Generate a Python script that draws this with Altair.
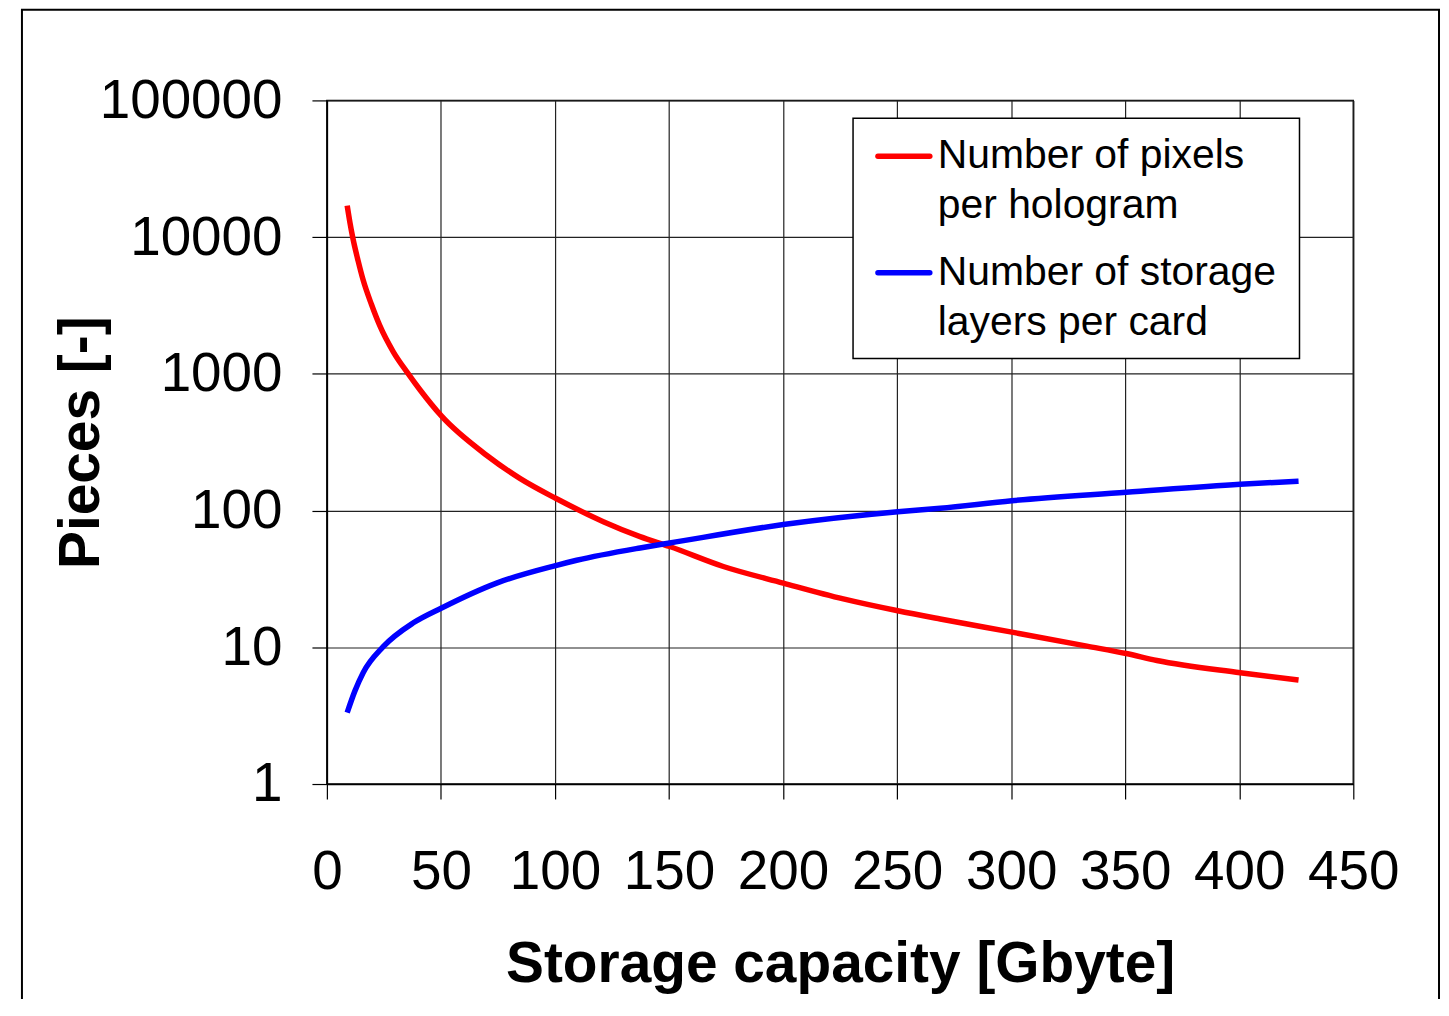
import altair as alt
import pandas as pd

series_names = ["Number of pixels per hologram", "Number of storage layers per card"]
legend_lines = [["Number of pixels", "per hologram"], ["Number of storage", "layers per card"]]
colors = ["#ff0000", "#0000ff"]

red_x = [8.9, 10.1, 11.3, 13.7, 15.9, 19.6, 23.2, 29.1, 35.7, 40.8, 50.3, 70, 84.6, 100.3,
         121.2, 137.3, 150.3, 173.8, 200.1, 226.4, 250.3, 268.9, 300.3, 333.2, 350.4,
         363.9, 400.4, 426]
red_y = [17000, 12800, 10000, 6700, 4850, 3200, 2250, 1450, 1000, 765, 490, 254, 172, 123,
         83, 64.5, 54.6, 39, 29.5, 22.6, 18.5, 16.1, 12.9, 10.2, 9.0,
         8.0, 6.52, 5.76]

blue_x = [8.9, 12.3, 15.9, 24.7, 37.9, 50.3, 74.4, 100.3, 109.5, 137.3, 150.3, 200.1,
          250.3, 268.9, 300.3, 350.4, 400.4, 426]
blue_y = [3.33, 4.8, 6.52, 10.1, 15.1, 19.4, 29.5, 39.6, 43.3, 53.3, 57.9, 79,
          98, 104, 118, 136, 156, 164]

x_ticks = [0, 50, 100, 150, 200, 250, 300, 350, 400, 450]
y_ticks = [1, 10, 100, 1000, 10000, 100000]

df = pd.concat([
    pd.DataFrame({"x": red_x, "y": red_y, "series": series_names[0], "order": range(len(red_x))}),
    pd.DataFrame({"x": blue_x, "y": blue_y, "series": series_names[1], "order": range(len(blue_x))}),
])

FONT = "Liberation Sans"
W, H = 1030, 686

lines = alt.Chart(df).mark_line(strokeWidth=5.5, interpolate="monotone", clip=True).encode(
    x=alt.X("x:Q", scale=alt.Scale(domain=[0, 450], nice=False, zero=False),
            axis=alt.Axis(values=x_ticks, title="Storage capacity [Gbyte]",
                          labelPadding=47, titleBaseline="alphabetic", titleY=198)),
    y=alt.Y("y:Q", scale=alt.Scale(type="log", domain=[1, 100000], nice=False),
            axis=alt.Axis(values=y_ticks, format="d", title="Pieces [-]",
                          labelPadding=30, titleX=-246, titleY=H / 2,
                          titleBaseline="middle", titleAlign="center", titleAngle=-90)),
    color=alt.Color("series:N", scale=alt.Scale(domain=series_names, range=colors), legend=None),
    order="order:Q",
)

one = pd.DataFrame({"a": [0]})

frame = alt.Chart(one).mark_rect(fillOpacity=0, stroke="black", strokeWidth=2, clip=False).encode(
    x=alt.value(-306), x2=alt.value(1116), y=alt.value(-91), y2=alt.value(1000)
)

legend_box = alt.Chart(one).mark_rect(fill="white", stroke="black", strokeWidth=1.5).encode(
    x=alt.value(528), x2=alt.value(976), y=alt.value(18), y2=alt.value(259)
)

sym1 = alt.Chart(one).mark_rule(color=colors[0], strokeWidth=5.5, strokeCap="round").encode(
    x=alt.value(553), x2=alt.value(605), y=alt.value(56)
)
sym2 = alt.Chart(one).mark_rule(color=colors[1], strokeWidth=5.5, strokeCap="round").encode(
    x=alt.value(553), x2=alt.value(605), y=alt.value(173)
)

def txt(s, yv):
    return alt.Chart(pd.DataFrame({"t": [s]})).mark_text(
        align="left", baseline="middle", font=FONT, fontSize=41, color="black"
    ).encode(text="t:N", x=alt.value(613), y=alt.value(yv))

texts = [
    txt(legend_lines[0][0], 56), txt(legend_lines[0][1], 106),
    txt(legend_lines[1][0], 173), txt(legend_lines[1][1], 223),
]

chart = alt.layer(frame, lines, legend_box, sym1, sym2, *texts).properties(
    width=W, height=H,
    autosize=alt.AutoSizeParams(type="none"),
    padding={"left": 320, "top": 91, "right": 88, "bottom": 214},
    background="white",
).configure_view(
    stroke="black", strokeWidth=1.5
).configure_axis(
    labelFont=FONT, labelFontSize=55, labelColor="black", labelLimit=400,
    titleFont=FONT, titleFontSize=57, titleFontWeight="bold", titleColor="black",
    domainColor="black", domainWidth=1.5,
    tickColor="black", tickSize=15, tickWidth=1.2,
    gridColor="#222", gridWidth=1.2, grid=True,
    labelFlush=False, labelOverlap=False,
)

chart.save("out.html", embed_options={"renderer": "svg", "actions": False})
